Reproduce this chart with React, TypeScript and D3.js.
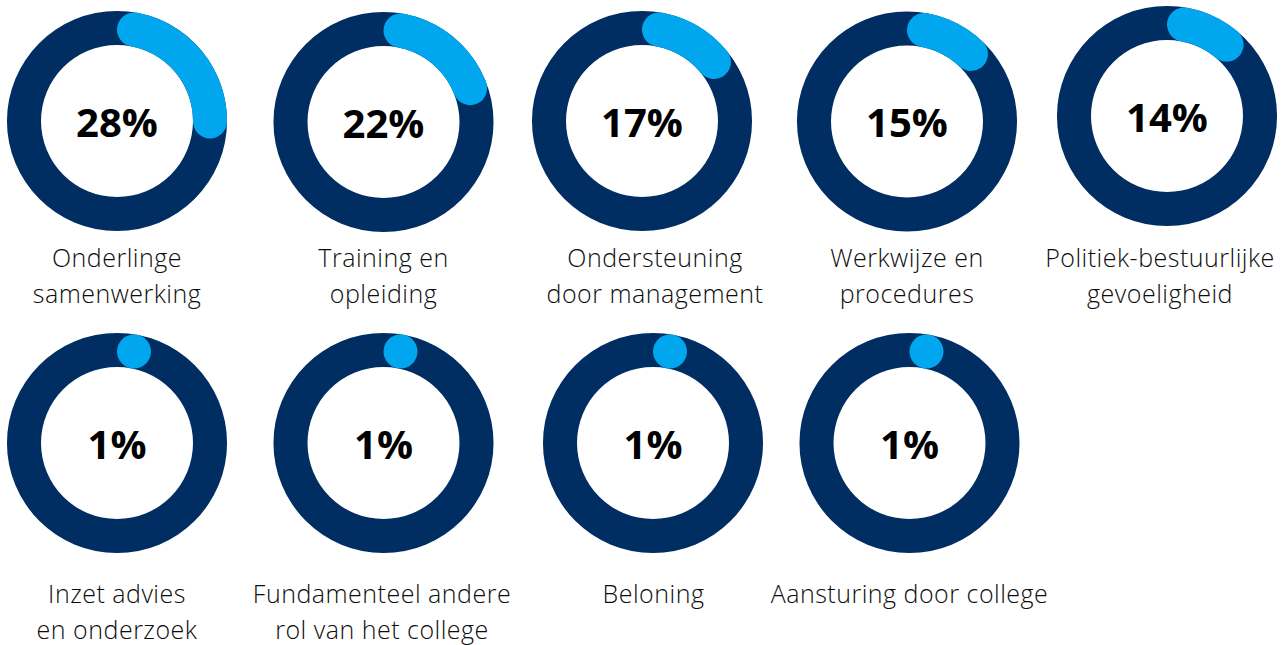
import React from "react";
import * as d3 from "d3";

const categories: string[][] = [
  ["Onderlinge", "samenwerking"],
  ["Training en", "opleiding"],
  ["Ondersteuning", "door management"],
  ["Werkwijze en", "procedures"],
  ["Politiek-bestuurlijke", "gevoeligheid"],
  ["Inzet advies", "en onderzoek"],
  ["Fundamenteel andere", "rol van het college"],
  ["Beloning"],
  ["Aansturing door college"],
];
const values: number[] = [28, 22, 17, 15, 14, 1, 1, 1, 1];

// layout (positions of each donut and its label)
const centerX = [117, 383.5, 642, 907, 1167, 117, 383.5, 653, 909.5];
const centerY = [121, 122, 121, 121.5, 116, 443, 443, 443, 443];
const labelX = [117, 383.5, 655, 907, 1160, 117, 382, 653.5, 909.5];
const labelY = [267, 267, 267, 267, 267, 603, 603, 603, 603];

const W = 1283;
const H = 645;
const R_OUT = 110;
const R_IN = 76;
const CAP = (R_OUT - R_IN) / 2;
const R_MID = (R_OUT + R_IN) / 2;
const DARK = "#002d62";
const LIGHT = "#00a7ef";

const angle = d3.scaleLinear().domain([0, 100]).range([0, 2 * Math.PI]);
const ring = d3.arc<any>().innerRadius(R_IN).outerRadius(R_OUT);
const valueArc = d3
  .arc<any>()
  .innerRadius(R_IN)
  .outerRadius(R_OUT)
  .cornerRadius(CAP)
  .startAngle(0);

export default function App() {
  const capAngle = Math.asin(CAP / R_MID);
  return (
    <svg
      width={W}
      height={H}
      style={{ position: "absolute", left: 0, top: 0, background: "#fff" }}
    >
      {values.map((v, i) => {
        const cx = centerX[i];
        const cy = centerY[i];
        const end = angle(v);
        const minimal = end * R_MID < 2 * CAP * 1.3;
        return (
          <g key={i}>
            <g transform={`translate(${cx},${cy})`}>
              <path
                d={ring({ startAngle: 0, endAngle: 2 * Math.PI }) || ""}
                fill={DARK}
              />
              {minimal ? (
                <circle
                  cx={R_MID * Math.sin(capAngle)}
                  cy={-R_MID * Math.cos(capAngle)}
                  r={CAP}
                  fill={LIGHT}
                />
              ) : (
                <path d={valueArc({ endAngle: end }) || ""} fill={LIGHT} />
              )}
              <text
                x={0}
                y={15.5}
                textAnchor="middle"
                fontFamily="'Open Sans', sans-serif"
                fontWeight={700}
                fontSize={40}
                fill="#000"
              >
                {`${v}%`}
              </text>
            </g>
            <text
              x={labelX[i]}
              y={labelY[i]}
              textAnchor="middle"
              fontFamily="'Open Sans', sans-serif"
              fontWeight={300}
              fontSize={25}
              letterSpacing={0.5}
              fill="#0d0d0d"
            >
              {categories[i].map((line, j) => (
                <tspan key={j} x={labelX[i]} dy={j === 0 ? 0 : 36}>
                  {line}
                </tspan>
              ))}
            </text>
          </g>
        );
      })}
    </svg>
  );
}
